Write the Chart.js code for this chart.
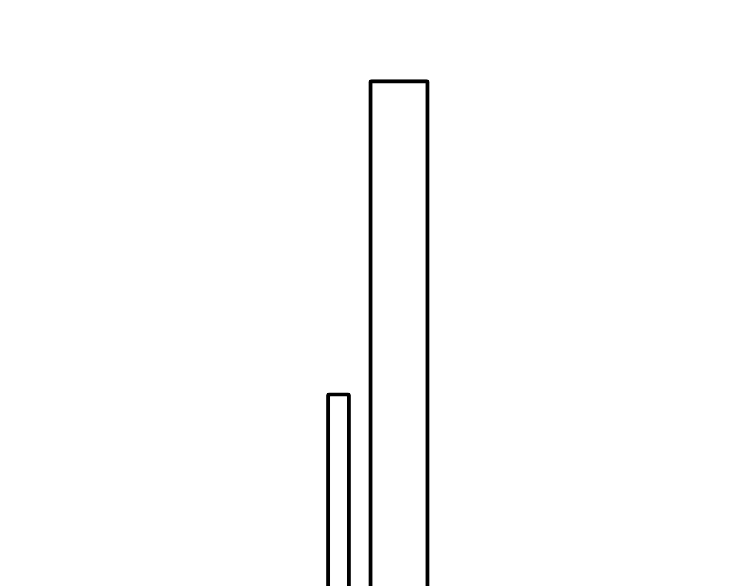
<!DOCTYPE html>
<html>
<head>
<meta charset="utf-8">
<script src="https://cdn.jsdelivr.net/npm/chart.js@4"></script>
<style>
  html, body { margin: 0; padding: 0; background: #fff; }
  #wrap { width: 750px; height: 586px; }
</style>
</head>
<body>
<div id="wrap"><canvas id="chart"></canvas></div>
<script>
  // ---- Data ----
  const categories = ['1', '2', '3', '4', '5', '6', '7', '8', '9', '10', '11', '12'];
  const narrowValues = [null, null, null, null, null, 33.0, null, null, null, null, null, null];
  const wideValues = [null, null, null, null, null, null, 86.4, null, null, null, null, null];

  // ---- Chart ----
  new Chart(document.getElementById('chart'), {
    type: 'bar',
    data: {
      labels: categories,
      datasets: [
        {
          data: narrowValues,
          backgroundColor: '#ffffff',
          borderColor: '#000000',
          borderWidth: 4,
          borderRadius: 3,
          barPercentage: 0.41,
          categoryPercentage: 1,
          grouped: false,
        },
        {
          data: wideValues,
          backgroundColor: '#ffffff',
          borderColor: '#000000',
          borderWidth: 4,
          borderRadius: 3,
          barPercentage: 1,
          categoryPercentage: 1,
          grouped: false,
        }
      ]
    },
    options: {
      responsive: true,
      maintainAspectRatio: false,
      animation: false,
      layout: { padding: { left: 5.75, right: 18.25, top: 0, bottom: 0 } },
      plugins: { legend: { display: false }, tooltip: { enabled: false } },
      scales: {
        x: { display: false },
        y: { display: false, min: 0, max: 100 }
      }
    }
  });
</script>
</body>
</html>
